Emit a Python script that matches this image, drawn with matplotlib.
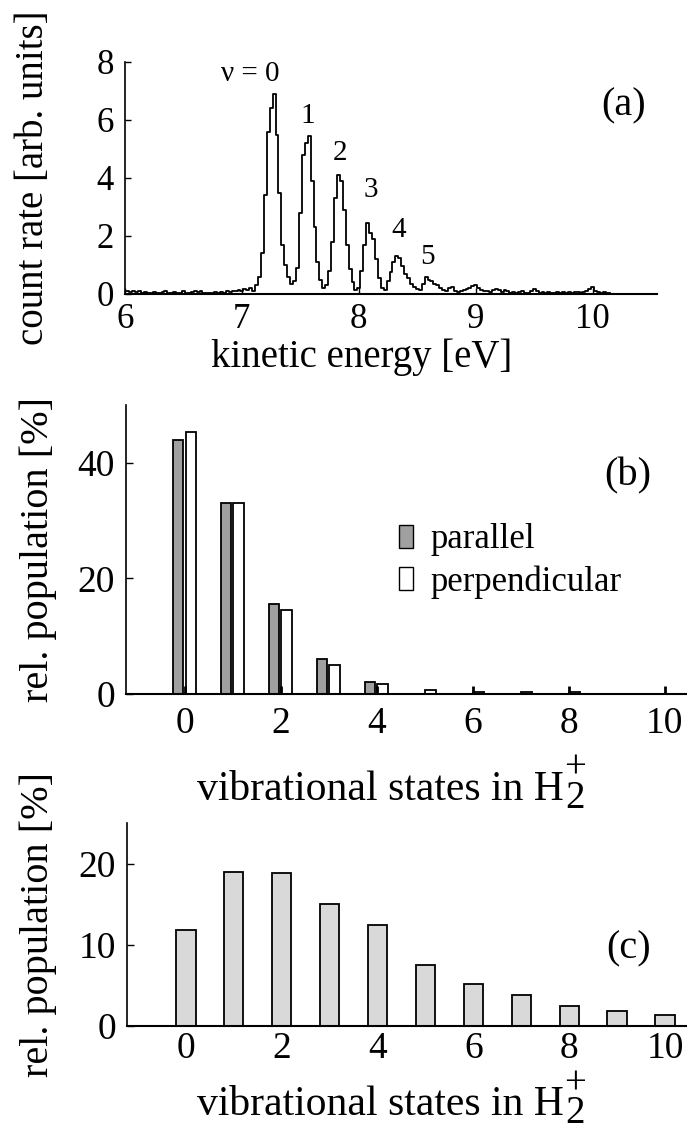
import numpy as np
import matplotlib
matplotlib.use("Agg")
import matplotlib.pyplot as plt
from matplotlib.patches import Patch

plt.rcParams['font.family'] = ['Liberation Serif', 'DejaVu Serif']
plt.rcParams['font.size'] = 24

# (a) electron spectrum, bins of 0.025 eV starting at 6.0 eV
spec_start = 6.0
spec_bin = 0.025
spec_counts = [
    0.10, 0.12, 0.08, 0.12, 0.06, 0.10, 0.05, 0.08,
    0.05, 0.04, 0.07, 0.05, 0.04, 0.06, 0.10, 0.05,
    0.04, 0.06, 0.03, 0.05, 0.10, 0.05, 0.03, 0.08,
    0.12, 0.06, 0.10, 0.05, 0.02, 0.04, 0.02, 0.06,
    0.05, 0.08, 0.04, 0.10, 0.08, 0.12, 0.10, 0.15,
    0.12, 0.18, 0.15, 0.20, 0.12, 0.30, 0.60, 1.40,
    3.40, 5.60, 6.40, 6.90, 5.50, 3.50, 1.70, 1.00,
    0.60, 0.35, 0.45, 0.90, 2.80, 4.80, 5.20, 5.45,
    3.90, 2.30, 1.10, 0.50, 0.22, 0.30, 0.80, 1.80,
    3.30, 4.10, 3.90, 2.90, 1.70, 0.85, 0.40, 0.15,
    0.20, 0.80, 1.70, 2.45, 2.10, 1.90, 1.20, 0.55,
    0.20, 0.15, 0.45, 0.75, 1.10, 1.30, 1.25, 0.95,
    0.70, 0.55, 0.35, 0.25, 0.18, 0.15, 0.35, 0.60,
    0.50, 0.45, 0.35, 0.30, 0.20, 0.15, 0.10, 0.22,
    0.25, 0.10, 0.08, 0.12, 0.15, 0.18, 0.22, 0.28,
    0.30, 0.22, 0.15, 0.10, 0.12, 0.08, 0.15, 0.18,
    0.15, 0.08, 0.15, 0.12, 0.05, 0.08, 0.04, 0.06,
    0.10, 0.05, 0.03, 0.12, 0.18, 0.10, 0.05, 0.08,
    0.04, 0.06, 0.03, 0.05, 0.07, 0.04, 0.06, 0.05,
    0.07, 0.04, 0.06, 0.08, 0.05, 0.07, 0.10, 0.18,
    0.25, 0.12, 0.08, 0.05, 0.06, 0.03, 0.02,
]
peak_labels = ['\u03bd = 0', '1', '2', '3', '4', '5']
peak_label_x = [7.07, 7.565, 7.84, 8.10, 8.34, 8.59]
peak_label_y = [7.6, 6.14, 4.86, 3.59, 2.2, 1.29]

# (b) measured populations
states = list(range(11))
parallel = [44.0, 33.0, 15.5, 6.0, 2.1, 0, 0, 0, 0, 0, 0]
perpendicular = [45.3, 33.0, 14.5, 5.0, 1.8, 0.7, 0.3, 0.3, 0.3, 0, 0]

# (c) Franck-Condon populations
franck_condon = [11.8, 19.0, 18.8, 15.0, 12.5, 7.5, 5.2, 3.8, 2.5, 1.8, 1.3]

fig = plt.figure(figsize=(6.87, 11.33), dpi=100)
W, H = 687, 1133

def px_axes(left, right, bottom, top):
    return fig.add_axes([left / W, 1 - bottom / H, (right - left) / W, (bottom - top) / H])

def h2_label(ax, xpos, ypos):
    # "vibrational states in H" followed by a stacked "+" over a full size "2"
    lab = ax.set_xlabel('vibrational states in H', fontsize=30)
    ax.xaxis.set_label_coords(xpos, ypos)
    ax.annotate('+\n2', xy=(1, 0), xycoords=lab, xytext=(1, -8), textcoords='offset pixels',
                ha='left', va='bottom', fontsize=28, linespacing=0.74,
                multialignment='center', annotation_clip=False)

# ---- panel (a)
ax1 = px_axes(125, 657, 294, 62)
energy = spec_start + spec_bin * np.arange(len(spec_counts))
ax1.plot(energy, spec_counts, drawstyle='steps-mid', color='black', lw=1.3)
ax1.set_xlim(6, 10.55)
ax1.set_ylim(0, 8)
ax1.set_xticks([6, 7, 8, 9, 10])
ax1.set_yticks([0, 2, 4, 6, 8])
for lab, x, y in zip(peak_labels, peak_label_x, peak_label_y):
    ax1.text(x, y, lab, ha='center', va='center', fontsize=21)
ax1.text(0.937, 0.81, '(a)', transform=ax1.transAxes, ha='center', va='center', fontsize=29)
ax1.set_ylabel('count rate [arb. units]', fontsize=28)
ax1.yaxis.set_label_coords(-0.137, 0.5)
ax1.set_xlabel('kinetic energy [eV]', fontsize=28)
ax1.xaxis.set_label_coords(0.445, -0.19)
ax1.tick_params(direction='in', length=4, width=1, pad=6.5, labelsize=25)
ax1.tick_params(axis='y', pad=8)

# ---- panel (b)
ax2 = px_axes(126, 687, 694, 405)
xs = np.array(states)
ax2.bar(xs - 0.15, parallel, width=0.22, color='#a0a0a0', edgecolor='black', lw=1.3)
ax2.bar(xs + 0.12, perpendicular, width=0.22, color='white', edgecolor='black', lw=1.3)
ax2.set_xlim(-1.23, 10.46)
ax2.set_ylim(0, 50)
ax2.set_xticks([0, 2, 4, 6, 8, 10])
ax2.set_yticks([0, 20, 40])
ax2.text(0.895, 0.755, '(b)', transform=ax2.transAxes, ha='center', va='center', fontsize=29)
handles = [Patch(facecolor='#a0a0a0', edgecolor='black', label='parallel'),
           Patch(facecolor='white', edgecolor='black', label='perpendicular')]
ax2.legend(handles=handles, loc='center left', bbox_to_anchor=(0.487, 0.46), fontsize=25,
           frameon=False, borderpad=0, borderaxespad=0, handlelength=0.4,
           handleheight=0.63, handletextpad=0.5, labelspacing=0.25)
ax2.set_ylabel('rel. population [%]', fontsize=29)
ax2.yaxis.set_label_coords(-0.123, 0.5)
h2_label(ax2, 0.4528, -0.263)
ax2.tick_params(axis='x', direction='in', length=6, width=2, pad=9, labelsize=27)
ax2.tick_params(axis='y', direction='in', length=5, width=1, pad=8, labelsize=27)

# ---- panel (c)
ax3 = px_axes(127, 687, 1026, 823)
ax3.bar(xs, franck_condon, width=0.4, color='#d9d9d9', edgecolor='black', lw=1.3)
ax3.set_xlim(-1.23, 10.46)
ax3.set_ylim(0, 25)
ax3.set_xticks([0, 2, 4, 6, 8, 10])
ax3.set_yticks([0, 10, 20])
ax3.text(0.895, 0.38, '(c)', transform=ax3.transAxes, ha='center', va='center', fontsize=29)
ax3.set_ylabel('rel. population [%]', fontsize=29)
ax3.yaxis.set_label_coords(-0.125, 0.5)
h2_label(ax3, 0.4518, -0.292)
ax3.tick_params(axis='x', direction='in', length=0, pad=4, labelsize=27)
ax3.tick_params(axis='y', direction='in', length=5, width=1, pad=8, labelsize=27)

for ax in (ax1, ax2, ax3):
    ax.spines['top'].set_visible(False)
    ax.spines['right'].set_visible(False)
    ax.spines['left'].set_linewidth(1.2)
    ax.spines['bottom'].set_linewidth(1.5)

fig.savefig('out.png', dpi=100)
